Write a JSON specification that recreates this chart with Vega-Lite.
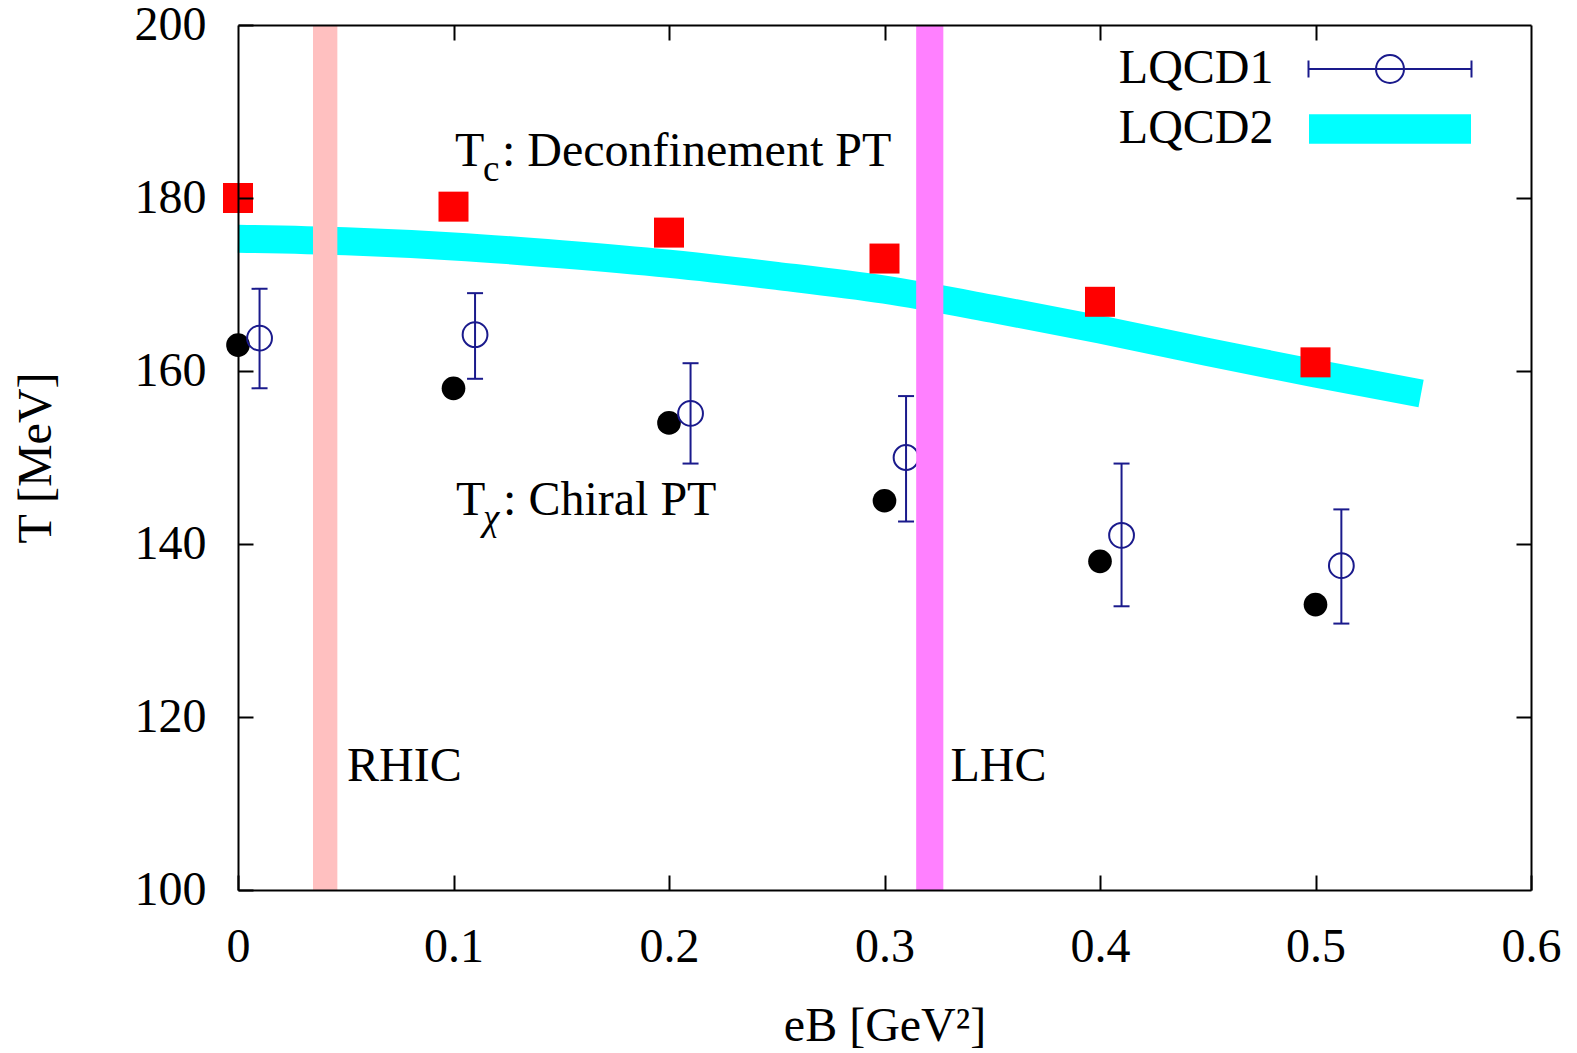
{
  "$schema": "https://vega.github.io/schema/vega-lite/v6.json",
  "width": 1293,
  "height": 865,
  "autosize": {"type": "none"},
  "padding": {"left": 238, "top": 25, "right": 46, "bottom": 163},
  "background": "white",
  "datasets": {
    "tc": [
      {"eB": 0, "T": 180}, {"eB": 0.1, "T": 179}, {"eB": 0.2, "T": 176},
      {"eB": 0.3, "T": 173}, {"eB": 0.4, "T": 168}, {"eB": 0.5, "T": 161}
    ],
    "tchi": [
      {"eB": 0, "T": 163}, {"eB": 0.1, "T": 158}, {"eB": 0.2, "T": 154},
      {"eB": 0.3, "T": 145}, {"eB": 0.4, "T": 138}, {"eB": 0.5, "T": 133}
    ],
    "lqcd1": [
      {"eB": 0.01, "T": 163.8, "lo": 158.0, "hi": 169.5},
      {"eB": 0.11, "T": 164.2, "lo": 159.1, "hi": 169.0},
      {"eB": 0.21, "T": 155.1, "lo": 149.3, "hi": 160.9},
      {"eB": 0.31, "T": 150.0, "lo": 142.6, "hi": 157.1},
      {"eB": 0.41, "T": 141.0, "lo": 132.8, "hi": 149.3},
      {"eB": 0.512, "T": 137.5, "lo": 130.8, "hi": 144.0}
    ],
    "lqcd2": [
      {"eB": 0, "T": 175.3}, {"eB": 0.05, "T": 175.0}, {"eB": 0.1, "T": 174.4},
      {"eB": 0.15, "T": 173.5}, {"eB": 0.2, "T": 172.4}, {"eB": 0.25, "T": 171.0},
      {"eB": 0.3, "T": 169.4}, {"eB": 0.35, "T": 167.2}, {"eB": 0.4, "T": 164.8},
      {"eB": 0.45, "T": 162.2}, {"eB": 0.5, "T": 159.7}, {"eB": 0.549, "T": 157.4}
    ],
    "bands": [
      {"name": "RHIC", "lo": 0.0348, "hi": 0.0461},
      {"name": "LHC", "lo": 0.3147, "hi": 0.3273}
    ],
    "labels": [
      {"eB": 0.0506, "T": 112.64, "text": "RHIC"},
      {"eB": 0.3306, "T": 112.64, "text": "LHC"}
    ],
    "ann": [
      {"eB": 0.1007, "T": 183.7, "main": "T", "sub": "c", "rest": ": Deconfinement PT"},
      {"eB": 0.1012, "T": 143.35, "main": "T", "sub": "χ", "rest": ": Chiral PT"}
    ],
    "s1": [{"series": "LQCD1"}],
    "s2": [{"series": "LQCD2"}]
  },
  "resolve": {"axis": {"x": "independent", "y": "independent"}},
  "layer": [
    {
      "data": {"name": "lqcd2"},
      "mark": {"type": "line", "color": "#00ffff", "strokeWidth": 28, "strokeCap": "butt", "interpolate": "monotone"},
      "encoding": {
        "x": {"field": "eB", "type": "quantitative", "scale": {"domain": [0, 0.6], "nice": false, "zero": false},
          "axis": {"orient": "bottom", "values": [0, 0.1, 0.2, 0.3, 0.4, 0.5, 0.6], "format": ".1~f", "title": "eB [GeV²]", "titleY": 150, "titleBaseline": "alphabetic", "labelFlush": false, "labelPadding": 48, "zindex": 1}},
        "y": {"field": "T", "type": "quantitative", "scale": {"domain": [100, 200], "nice": false, "zero": false},
          "axis": {"orient": "left", "values": [100, 120, 140, 160, 180, 200], "title": "T [MeV]", "titleX": -188, "titleBaseline": "alphabetic", "labelPadding": 47, "labelFlush": false, "zindex": 1}}
      }
    },
    {
      "data": {"name": "tc"},
      "mark": {"type": "point", "shape": "square", "filled": true, "color": "#ff0000", "size": 900, "opacity": 1, "strokeWidth": 0},
      "encoding": {
        "x": {"field": "eB", "type": "quantitative", "axis": {"orient": "top", "values": [0.1, 0.2, 0.3, 0.4, 0.5], "labels": false, "title": null, "zindex": 1}},
        "y": {"field": "T", "type": "quantitative", "axis": {"orient": "right", "values": [120, 140, 160, 180], "labels": false, "title": null, "zindex": 1}}
      }
    },
    {
      "data": {"name": "tchi"},
      "mark": {"type": "point", "shape": "circle", "filled": true, "color": "#000000", "size": 560, "opacity": 1, "strokeWidth": 0},
      "encoding": {
        "x": {"field": "eB", "type": "quantitative", "axis": null},
        "y": {"field": "T", "type": "quantitative", "axis": null}
      }
    },
    {
      "data": {"name": "lqcd1"},
      "mark": {"type": "rule", "color": "#1a1a8c", "strokeWidth": 2},
      "encoding": {
        "x": {"field": "eB", "type": "quantitative", "axis": null},
        "y": {"field": "lo", "type": "quantitative", "axis": null},
        "y2": {"field": "hi"}
      }
    },
    {
      "data": {"name": "lqcd1"},
      "mark": {"type": "tick", "orient": "horizontal", "color": "#1a1a8c", "size": 16, "thickness": 2, "opacity": 1},
      "encoding": {
        "x": {"field": "eB", "type": "quantitative", "axis": null},
        "y": {"field": "lo", "type": "quantitative", "axis": null}
      }
    },
    {
      "data": {"name": "lqcd1"},
      "mark": {"type": "tick", "orient": "horizontal", "color": "#1a1a8c", "size": 16, "thickness": 2, "opacity": 1},
      "encoding": {
        "x": {"field": "eB", "type": "quantitative", "axis": null},
        "y": {"field": "hi", "type": "quantitative", "axis": null}
      }
    },
    {
      "data": {"name": "lqcd1"},
      "mark": {"type": "point", "shape": "circle", "filled": false, "color": "#1a1a8c", "size": 615, "strokeWidth": 2, "opacity": 1},
      "encoding": {
        "x": {"field": "eB", "type": "quantitative", "axis": null},
        "y": {"field": "T", "type": "quantitative", "axis": null}
      }
    },
    {
      "data": {"name": "bands"},
      "mark": {"type": "rect", "opacity": 1},
      "encoding": {
        "x": {"field": "lo", "type": "quantitative", "axis": null},
        "x2": {"field": "hi"},
        "y": {"datum": 100, "type": "quantitative", "axis": null},
        "y2": {"datum": 200},
        "color": {"field": "name", "type": "nominal", "scale": {"domain": ["RHIC", "LHC"], "range": ["#ffc0c0", "#ff80ff"]}, "legend": null}
      }
    },
    {
      "data": {"name": "ann"},
      "mark": {"type": "text", "font": "Liberation Serif", "fontSize": 48, "color": "#000000", "align": "left", "baseline": "alphabetic"},
      "encoding": {
        "x": {"field": "eB", "type": "quantitative", "axis": null},
        "y": {"field": "T", "type": "quantitative", "axis": null},
        "text": {"field": "main"}
      }
    },
    {
      "data": {"name": "ann"},
      "transform": [{"filter": "datum.sub === 'c'"}],
      "mark": {"type": "text", "font": "Liberation Serif", "fontSize": 37, "color": "#000000", "align": "left", "baseline": "alphabetic", "dx": 28, "dy": 15},
      "encoding": {
        "x": {"field": "eB", "type": "quantitative", "axis": null},
        "y": {"field": "T", "type": "quantitative", "axis": null},
        "text": {"field": "sub"}
      }
    },
    {
      "data": {"name": "ann"},
      "transform": [{"filter": "datum.sub !== 'c'"}],
      "mark": {"type": "text", "font": "Liberation Serif", "fontSize": 37, "fontStyle": "italic", "color": "#000000", "align": "left", "baseline": "alphabetic", "dx": 27, "dy": 15},
      "encoding": {
        "x": {"field": "eB", "type": "quantitative", "axis": null},
        "y": {"field": "T", "type": "quantitative", "axis": null},
        "text": {"field": "sub"}
      }
    },
    {
      "data": {"name": "ann"},
      "mark": {"type": "text", "font": "Liberation Serif", "fontSize": 48, "color": "#000000", "align": "left", "baseline": "alphabetic", "dx": 47},
      "encoding": {
        "x": {"field": "eB", "type": "quantitative", "axis": null},
        "y": {"field": "T", "type": "quantitative", "axis": null},
        "text": {"field": "rest"}
      }
    },
    {
      "data": {"name": "labels"},
      "mark": {"type": "text", "font": "Liberation Serif", "fontSize": 48, "color": "#000000", "align": "left", "baseline": "alphabetic"},
      "encoding": {
        "x": {"field": "eB", "type": "quantitative", "axis": null},
        "y": {"field": "T", "type": "quantitative", "axis": null},
        "text": {"field": "text"}
      }
    },
    {
      "data": {"name": "s1"},
      "mark": {"type": "point", "opacity": 0, "filled": false},
      "encoding": {
        "stroke": {"field": "series", "type": "nominal",
          "scale": {"domain": ["LQCD1"], "range": ["#1a1a8c"]},
          "legend": {
            "orient": "none", "legendX": 1128, "legendY": 20, "direction": "vertical",
            "title": null, "padding": 0,
            "labelFont": "Liberation Serif", "labelFontSize": 48, "labelColor": "#000000",
            "labelAlign": "right", "labelBaseline": "middle", "labelOffset": -140.5,
            "symbolSize": 900, "symbolStrokeWidth": 2, "symbolOpacity": 1,
            "symbolFillColor": "transparent",
            "symbolType": "M-5.433,0H5.433M-5.433,-0.567V0.567M5.433,-0.567V0.567M-0.933,0A0.933,0.933,0,1,0,0.933,0A0.933,0.933,0,1,0,-0.933,0"
          }
        }
      }
    },
    {
      "data": {"name": "s2"},
      "mark": {"type": "point", "opacity": 0, "filled": true},
      "encoding": {
        "fill": {"field": "series", "type": "nominal",
          "scale": {"domain": ["LQCD2"], "range": ["#00ffff"]},
          "legend": {
            "orient": "none", "legendX": 1128, "legendY": 80, "direction": "vertical",
            "title": null, "padding": 0,
            "labelFont": "Liberation Serif", "labelFontSize": 48, "labelColor": "#000000",
            "labelAlign": "right", "labelBaseline": "middle", "labelOffset": -140.5,
            "symbolSize": 900, "symbolStrokeWidth": 0, "symbolOpacity": 1,
            "symbolStrokeColor": "transparent",
            "symbolType": "M-5.4,-0.99H5.4V0.99H-5.4Z"
          }
        }
      }
    }
  ],
  "config": {
    "view": {"stroke": null},
    "axis": {
      "domain": true, "domainColor": "#000000", "domainWidth": 2,
      "grid": false,
      "ticks": true, "tickColor": "#000000", "tickWidth": 2, "tickSize": -15,
      "labelFont": "Liberation Serif", "labelFontSize": 48, "labelColor": "#000000",
      "titleFont": "Liberation Serif", "titleFontSize": 48, "titleFontWeight": "normal", "titleColor": "#000000"
    },
    "text": {"font": "Liberation Serif"}
  }
}
